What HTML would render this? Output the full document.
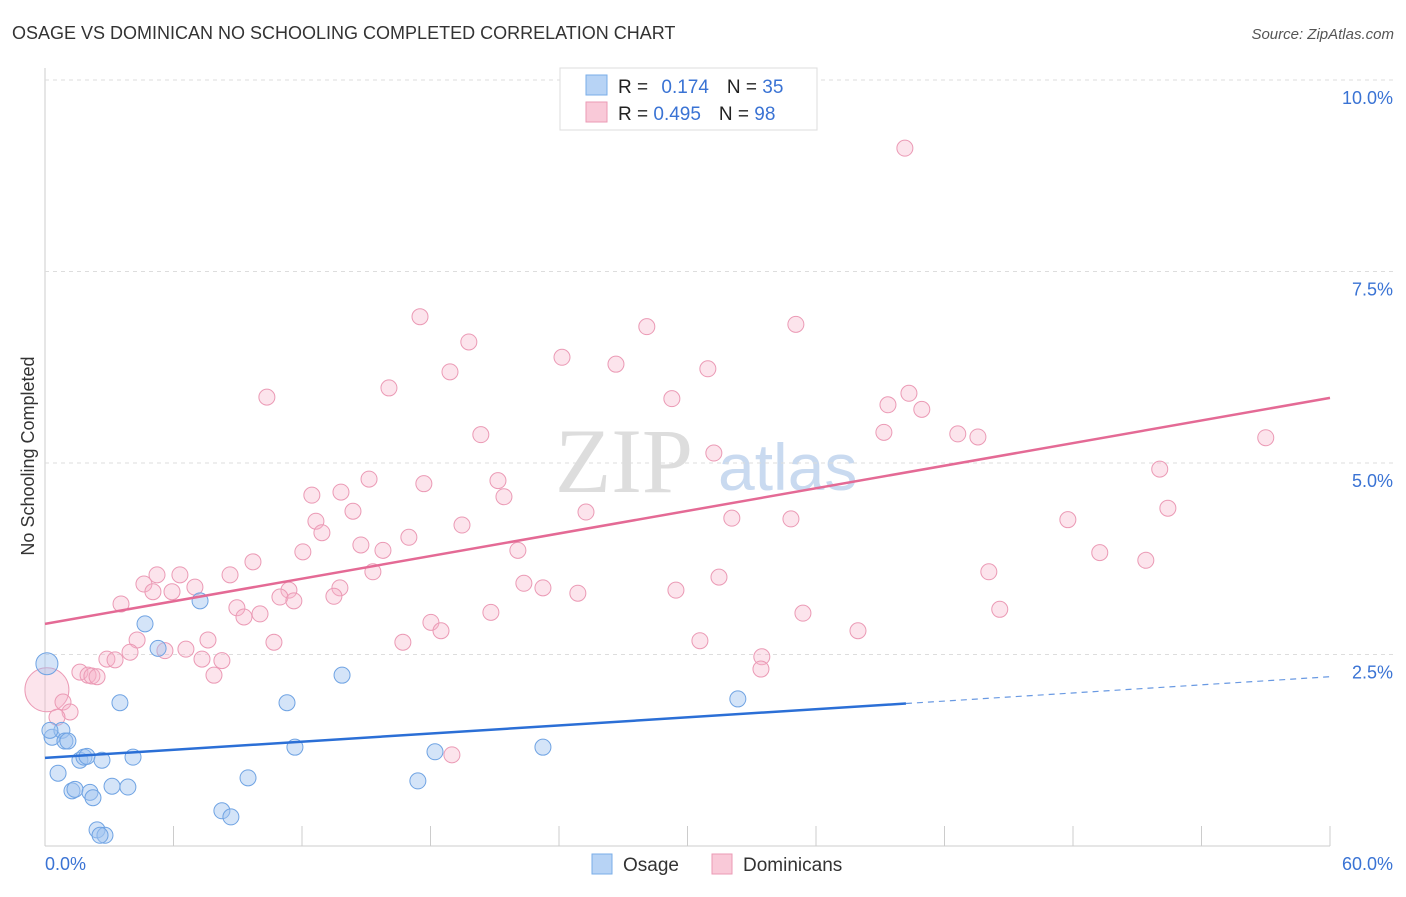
<!DOCTYPE html>
<html><head><meta charset="utf-8"><style>
body{margin:0;background:#fff;font-family:"Liberation Sans",sans-serif;}
</style></head><body>
<svg id="chart" width="1406" height="892" xmlns="http://www.w3.org/2000/svg">
<text x="12" y="39" font-size="18" fill="#333">OSAGE VS DOMINICAN NO SCHOOLING COMPLETED CORRELATION CHART</text>
<text x="1394" y="39" font-size="15" fill="#555" text-anchor="end" font-style="italic">Source: ZipAtlas.com</text>
<text x="555" y="492" font-size="92" fill="#ddd" font-family="Liberation Serif,serif">ZIP</text>
<text x="718" y="490" font-size="66" fill="#c9daf0">atlas</text>
<text transform="translate(34,456) rotate(-90)" font-size="18" fill="#333" text-anchor="middle">No Schooling Completed</text>
<g id="grid"></g><g id="marks"></g><g id="lines"></g>
<g>
<rect x="560" y="68" width="257" height="62" fill="#fff" stroke="#ddd"/>
<rect x="586" y="75" width="21" height="20" fill="#b7d3f5" stroke="#7aaee8"/>
<rect x="586" y="102" width="21" height="20" fill="#f9c9d8" stroke="#eb9ab5"/>
<text x="618" y="93" font-size="19" fill="#222">R = <tspan fill="#3a73d4" dx="8">0.174</tspan><tspan dx="18" fill="#222">N = </tspan><tspan fill="#3a73d4">35</tspan></text>
<text x="618" y="120" font-size="19" fill="#222">R = <tspan fill="#3a73d4">0.495</tspan><tspan dx="18" fill="#222">N = </tspan><tspan fill="#3a73d4">98</tspan></text>
</g>
<g>
<rect x="592" y="854" width="20" height="20" fill="#b7d3f5" stroke="#7aaee8"/>
<text x="623" y="871" font-size="19" fill="#333">Osage</text>
<rect x="712" y="854" width="20" height="20" fill="#f9c9d8" stroke="#eb9ab5"/>
<text x="743" y="871" font-size="19" fill="#333">Dominicans</text>
</g>
</svg>
<script>
const yTicks=[2.5,5.0,7.5,10.0];
const yTickLabels=["2.5%","5.0%","7.5%","10.0%"];
const xTickLabels=["0.0%","60.0%"];
const osageX=[0.09,0.33,0.79,0.93,1.07,0.61,1.26,1.40,1.63,1.82,1.96,2.10,2.24,2.43,2.66,2.80,3.13,3.50,3.87,4.11,4.67,5.28,7.24,8.26,8.68,9.48,11.30,11.67,13.87,17.41,18.21,23.25,32.35,0.23,2.57];
const osageY=[2.38,1.42,1.51,1.37,1.37,0.95,0.72,0.74,1.12,1.16,1.17,0.70,0.63,0.21,1.12,0.14,0.78,1.87,0.77,1.16,2.90,2.58,3.20,0.46,0.38,0.89,1.87,1.29,2.23,0.85,1.23,1.29,1.92,1.51,0.14];
const domX=[40.15,17.51,28.10,35.06,19.79,24.14,26.66,18.91,30.95,16.06,10.36,29.27,40.34,39.36,40.94,20.35,39.17,42.62,43.56,57.00,31.23,52.05,15.13,13.82,17.69,21.15,12.46,21.43,14.38,25.26,52.43,12.65,12.93,32.07,34.83,47.76,19.47,16.99,14.75,12.04,15.78,22.08,49.25,9.71,51.40,15.31,44.07,5.23,6.30,8.64,31.47,4.62,5.04,7.00,13.77,22.36,23.25,29.46,24.88,11.39,5.93,10.97,13.49,11.62,3.55,8.96,9.29,10.04,20.82,35.39,44.58,18.02,18.49,37.96,4.30,7.61,10.69,16.71,30.58,3.97,5.60,6.58,2.89,3.27,7.33,8.26,33.47,33.43,1.63,2.01,2.19,2.43,7.89,0.09,0.84,1.17,0.56,19.00];
const domY=[9.11,6.91,6.78,6.81,6.58,6.38,6.29,6.19,6.23,5.98,5.86,5.84,5.91,5.76,5.70,5.37,5.40,5.38,5.34,5.33,5.13,4.92,4.79,4.62,4.73,4.77,4.58,4.56,4.37,4.36,4.41,4.24,4.09,4.28,4.27,4.26,4.19,4.03,3.93,3.84,3.86,3.86,3.83,3.71,3.73,3.58,3.58,3.54,3.54,3.54,3.51,3.42,3.32,3.38,3.37,3.43,3.37,3.34,3.30,3.34,3.32,3.25,3.26,3.20,3.16,3.11,2.99,3.03,3.05,3.04,3.09,2.92,2.81,2.81,2.69,2.69,2.66,2.66,2.68,2.53,2.55,2.57,2.44,2.43,2.44,2.42,2.47,2.31,2.27,2.23,2.22,2.21,2.23,2.04,1.88,1.75,1.68,1.19];
const osageTrend=[1.15,2.21];
const domTrend=[2.90,5.85];
const NS="http://www.w3.org/2000/svg";
const X=v=>45+v*(1285/60);
const Y=v=>846-v*76.6;
function mk(tag,attrs,parent){const e=document.createElementNS(NS,tag);for(const k in attrs)e.setAttribute(k,attrs[k]);document.getElementById(parent).appendChild(e);return e;}
mk('line',{x1:45,y1:68,x2:45,y2:846,stroke:'#ccc'},'grid');
mk('line',{x1:45,y1:846,x2:1330,y2:846,stroke:'#ccc'},'grid');
yTicks.forEach((t,i)=>{
 const g=mk('line',{x1:45,y1:Y(t),x2:1394,y2:Y(t),stroke:'#ddd','stroke-dasharray':'4,4'},'grid');
 
 
 const tx=mk('text',{x:1393,y:Y(t)+24,'font-size':18,fill:'#3a73d4','text-anchor':'end'},'grid');
 tx.textContent=yTickLabels[i];
 
 
});
for(let i=0;i<=10;i++){const l=mk('line',{x1:X(i*6),y1:826,x2:X(i*6),y2:846,stroke:'#ccc'},'grid');
 
 }
[[0,45,'start'],[60,1393,'end']].forEach((a,i)=>{const t=mk('text',{x:a[1],y:870,'font-size':18,fill:'#3a73d4','text-anchor':a[2]},'grid');t.textContent=xTickLabels[i];
 
 });
domX.forEach((x,i)=>{const c=mk('circle',{cx:X(x),cy:Y(domY[i]),r:(i==93?22:8),fill:'rgba(246,178,200,0.35)',stroke:'#eb9ab5','stroke-width':1},'marks');
 
 });
osageX.forEach((x,i)=>{const c=mk('circle',{cx:X(x),cy:Y(osageY[i]),r:(i==0?11:8),fill:'rgba(160,196,240,0.45)',stroke:'#6fa3e3','stroke-width':1},'marks');
 
 });
const ob=osageTrend[0],os=(osageTrend[1]-osageTrend[0])/60;
let l1=mk('line',{x1:X(0),y1:Y(ob),x2:X(40.2),y2:Y(ob+os*40.2),stroke:'#2b6fd6','stroke-width':2.5},'lines');


let l2=mk('line',{x1:X(40.2),y1:Y(ob+os*40.2),x2:X(60),y2:Y(osageTrend[1]),stroke:'#2b6fd6','stroke-width':1.2,'stroke-dasharray':'6,5',opacity:0.7},'lines');


let l3=mk('line',{x1:X(0),y1:Y(domTrend[0]),x2:X(60),y2:Y(domTrend[1]),stroke:'#e46a95','stroke-width':2.5},'lines');


</script>
</body></html>
